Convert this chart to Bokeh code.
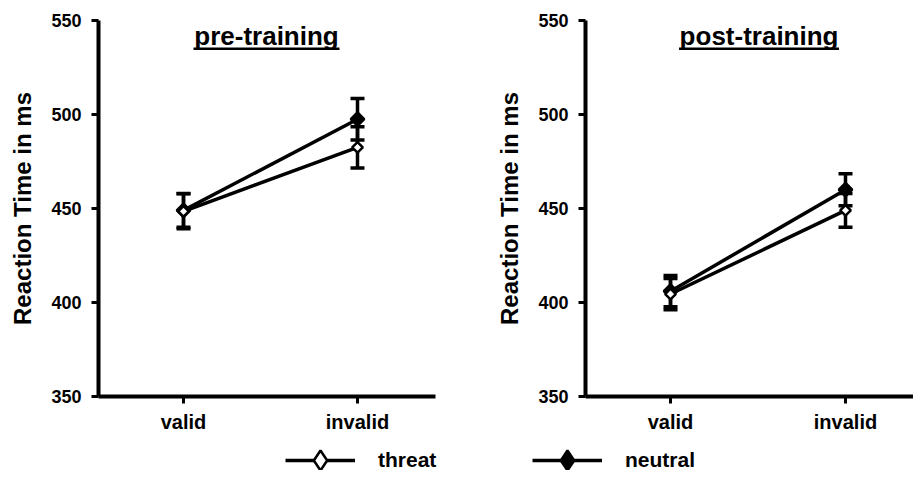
import math
from bokeh.plotting import figure
from bokeh.models import (ColumnDataSource, Range1d, FixedTicker, Whisker, TeeHead,
                          Label, BoxAnnotation, Legend, LegendItem)
from bokeh.layouts import row, column
from bokeh.embed import file_html
from bokeh.resources import INLINE

# ---------------- data ----------------
conditions = ["valid", "invalid"]
cond_pos = [1, 2]
pre_threat = [448.5, 482.5]
pre_threat_se = [9.3, 11.0]
pre_neutral = [449.0, 497.5]
pre_neutral_se = [9.0, 11.0]
post_threat = [404.5, 449.0]
post_threat_se = [8.3, 9.0]
post_neutral = [406.0, 460.0]
post_neutral_se = [8.3, 8.5]
y_ticks = [350, 400, 450, 500, 550]
panel_titles = ["pre-training", "post-training"]
series_names = ["threat", "neutral"]
y_label = "Reaction Time in ms"

FONT = "Liberation Sans"
PANEL_H = 440


def make_panel(title, threat, threat_se, neutral, neutral_se, width, b_left, b_right,
               px_per_unit, title_x, title_half_px):
    frame_w = width - b_left - b_right
    x_start = 1 - 85 / px_per_unit
    x_end = x_start + frame_w / px_per_unit
    p = figure(width=width, height=PANEL_H, output_backend="svg", toolbar_location=None,
               x_range=Range1d(x_start, x_end), y_range=Range1d(350, 550),
               min_border_left=b_left, min_border_right=b_right,
               min_border_top=20, min_border_bottom=PANEL_H - 396)
    p.outline_line_color = None
    p.xgrid.grid_line_color = None
    p.ygrid.grid_line_color = None
    p.background_fill_color = "white"

    for ax in (p.xaxis[0], p.yaxis[0]):
        ax.axis_line_width = 4
        ax.axis_line_color = "black"
        ax.major_tick_line_width = 3
        ax.major_tick_line_color = "black"
        ax.major_tick_out = 7
        ax.major_tick_in = 0
        ax.minor_tick_line_color = None
        ax.major_label_text_font = FONT
        ax.major_label_text_font_style = "bold"
        ax.major_label_text_font_size = "18px"
        ax.major_label_text_color = "black"

    p.xaxis.ticker = FixedTicker(ticks=cond_pos)
    p.xaxis.major_label_overrides = {cp: c for cp, c in zip(cond_pos, conditions)}
    p.xaxis.major_label_standoff = 7
    p.xaxis.major_label_text_font_size = "20px"
    p.yaxis.ticker = FixedTicker(ticks=y_ticks)
    p.yaxis.major_label_standoff = 10
    p.yaxis.axis_label = y_label
    p.yaxis.axis_label_text_font = FONT
    p.yaxis.axis_label_text_font_style = "bold"
    p.yaxis.axis_label_text_font_size = "24px"
    p.yaxis.axis_label_text_color = "black"
    p.yaxis.axis_label_standoff = 12

    src_t = ColumnDataSource(dict(x=cond_pos, y=threat,
                                  lo=[v - e for v, e in zip(threat, threat_se)],
                                  hi=[v + e for v, e in zip(threat, threat_se)]))
    src_n = ColumnDataSource(dict(x=cond_pos, y=neutral,
                                  lo=[v - e for v, e in zip(neutral, neutral_se)],
                                  hi=[v + e for v, e in zip(neutral, neutral_se)]))

    for src in (src_n, src_t):
        w = Whisker(source=src, base="x", upper="hi", lower="lo",
                    line_width=3.5, line_color="black",
                    upper_head=TeeHead(size=14, line_width=3.5, line_color="black"),
                    lower_head=TeeHead(size=14, line_width=3.5, line_color="black"))
        p.add_layout(w)

    p.line("x", "y", source=src_n, line_width=3.5, line_color="black")
    p.line("x", "y", source=src_t, line_width=3.5, line_color="black")
    p.scatter("x", "y", source=src_n, marker="square", angle=math.pi / 4, size=9.5,
              fill_color="black", line_color="black", line_width=2.5)
    p.scatter("x", "y", source=src_t, marker="square", angle=math.pi / 4, size=7.5,
              fill_color="white", line_color="black", line_width=2.5)

    # title with underline (inside the frame)
    p.add_layout(Label(x=title_x, y=542, text=title, text_align="center",
                       text_baseline="alphabetic", text_font=FONT,
                       text_font_style="bold", text_font_size="26px", text_color="black"))
    half = title_half_px / px_per_unit
    p.add_layout(BoxAnnotation(left=title_x - half, right=title_x + half,
                               top=535.6, bottom=534.3, fill_color="black",
                               fill_alpha=1, line_color=None))
    return p


p1 = make_panel(panel_titles[0], pre_threat, pre_threat_se, pre_neutral, pre_neutral_se,
                460, 98, 25, 174, 1.477, 73)
p2 = make_panel(panel_titles[1], post_threat, post_threat_se, post_neutral, post_neutral_se,
                453, 125, 0, 175, 1.506, 80)

# ---------------- legend strip ----------------
# the strip's ranges lie far from the data, so its renderers only feed the legend
leg_fig = figure(width=913, height=30, output_backend="svg", toolbar_location=None,
                 x_range=Range1d(-1, 0), y_range=Range1d(-1, 0),
                 min_border_left=0, min_border_right=0, min_border_top=0, min_border_bottom=0)
leg_fig.axis.visible = False
leg_fig.grid.visible = False
leg_fig.outline_line_color = None

series_vals = {"threat": pre_threat, "neutral": pre_neutral}
fills = {"threat": "white", "neutral": "black"}
leg_x = {"threat": 285, "neutral": 532}
for name in series_names:
    src = ColumnDataSource(dict(x=cond_pos, y=series_vals[name]))
    lr = leg_fig.line("x", "y", source=src, line_width=3.5, line_color="black")
    sr = leg_fig.scatter("x", "y", source=src, marker="diamond",
                         fill_color=fills[name], line_color="black", line_width=2.5)
    leg = Legend(items=[LegendItem(label=name, renderers=[lr, sr])],
                 location=(leg_x[name], -15), glyph_width=70, glyph_height=50,
                 label_height=50, label_standoff=23, padding=0, margin=0, spacing=0,
                 border_line_color=None, background_fill_alpha=0,
                 label_text_font=FONT, label_text_font_style="bold",
                 label_text_font_size="21px", label_text_color="black")
    leg_fig.add_layout(leg, "center")

layout = column(row(p1, p2), leg_fig)
open("out.html", "w").write(file_html(layout, INLINE))
